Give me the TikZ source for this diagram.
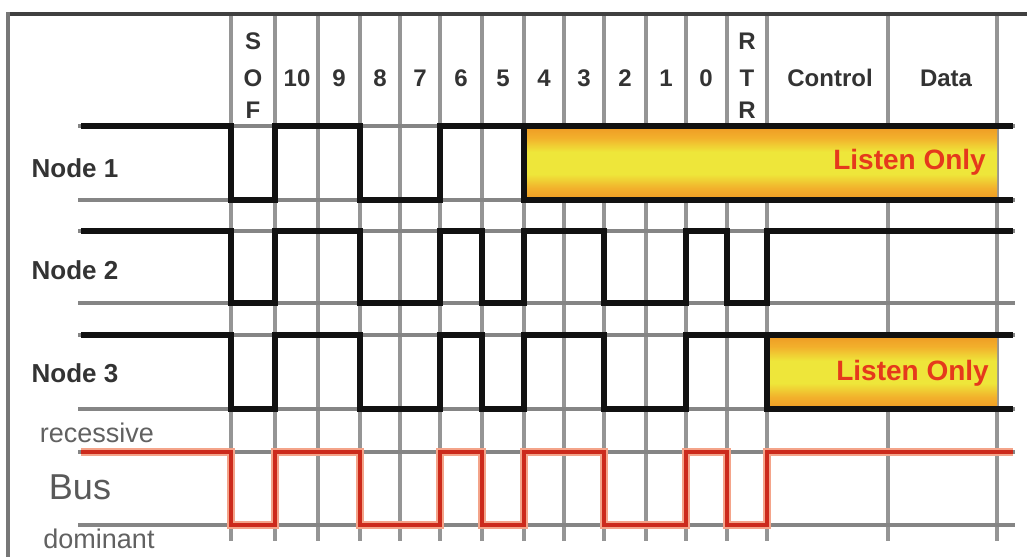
\documentclass[tikz,border=0pt]{standalone}
\usepackage{fontspec}
\setmainfont{Liberation Sans}
\definecolor{framec}{HTML}{404040}
\definecolor{framel}{HTML}{777777}
\definecolor{gridc}{HTML}{959595}
\definecolor{refc}{HTML}{858585}
\definecolor{sigc}{HTML}{111111}
\definecolor{busred}{HTML}{CC2A1C}
\definecolor{busglow}{HTML}{F4A48A}
\definecolor{txtc}{HTML}{333333}
\definecolor{lotext}{HTML}{E5391C}
\definecolor{boxbrown}{HTML}{6A3A12}
\definecolor{boxorange}{HTML}{EC861C}
\definecolor{boxmid}{HTML}{F2B02C}
\definecolor{boxyellow}{HTML}{EEE63A}
\pgfdeclareverticalshading{listenshade}{100bp}{%
  color(0bp)=(boxbrown); color(5bp)=(boxorange); color(16bp)=(boxorange);
  color(32bp)=(boxmid); color(42bp)=(boxyellow); color(58bp)=(boxyellow);
  color(68bp)=(boxmid); color(84bp)=(boxorange); color(95bp)=(boxorange);
  color(100bp)=(boxbrown)}
\begin{document}
\begin{tikzpicture}[x=1pt,y=-1pt,
  gridline/.style={draw=gridc, line width=3.4pt},
  refline/.style={draw=refc, line width=3.8pt},
  sig/.style={draw=sigc, line width=5.4pt, line join=miter},
  busglowline/.style={draw=busglow, line width=7.5pt, line join=miter},
  bussig/.style={draw=busred, line width=4.4pt, line join=miter},
  hdr/.style={font=\bfseries\fontsize{24}{24}\selectfont, text=txtc, inner sep=0pt},
  rowlbl/.style={font=\bfseries\fontsize{26}{26}\selectfont, text=txtc, inner sep=0pt},
  buslbl/.style={font=\fontsize{36}{36}\selectfont, text=black!65, inner sep=0pt},
  lvl/.style={font=\fontsize{27}{27}\selectfont, text=black!62, inner sep=0pt},
  listen/.style={font=\bfseries\fontsize{28}{28}\selectfont, text=lotext, inner sep=0pt, anchor=east},
  lobox/.style={shading=listenshade}
]
\useasboundingbox (0,0) rectangle (1027,557);
\fill[white] (0,0) rectangle (1027,557);

% frame
\draw[framec, line width=4pt] (6,14) -- (1027,14);
\draw[framel, line width=4pt] (8,12) -- (8,557);

% grid
\foreach \x in {231,275,318,360,400,440,482,524,564,604,646,686,727,767,888,997}
  \draw[gridline] (\x,16) -- (\x,541);

% reference levels
\foreach \y in {126,200,231,303,335,409,452,525}
  \draw[refline] (78,\y) -- (1015,\y);

% header
\node[hdr] (hS1) at (253,41) {S};
\node[hdr] (hO) at (253,78) {O};
\node[hdr] (hF) at (253,110) {F};
\node[hdr] (h10) at (297,78) {10};
\node[hdr] (h9) at (339,78) {9};
\node[hdr] (h8) at (380,78) {8};
\node[hdr] (h7) at (420,78) {7};
\node[hdr] (h6) at (461,78) {6};
\node[hdr] (h5) at (503,78) {5};
\node[hdr] (h4) at (544,78) {4};
\node[hdr] (h3) at (584,78) {3};
\node[hdr] (h2) at (625,78) {2};
\node[hdr] (h1) at (666,78) {1};
\node[hdr] (h0) at (706,78) {0};
\node[hdr] (hR1) at (747,41) {R};
\node[hdr] (hT) at (747,78) {T};
\node[hdr] (hR2) at (747,110) {R};
\node[hdr] (hctl) at (830,78) {Control};
\node[hdr] (hdat) at (946,78) {Data};

% row labels
\node[rowlbl] (n1) at (75,168) {Node 1};
\node[rowlbl] (n2) at (75,270) {Node 2};
\node[rowlbl] (n3) at (75,373) {Node 3};
\node[lvl] (rec) at (97,433) {recessive};
\node[buslbl] (bus) at (80,487) {Bus};
\node[lvl] (dom) at (99,539) {dominant};

% listen-only boxes
\shade[lobox] (526,128) rectangle (997,198);
\shade[lobox] (769,337) rectangle (997,407);
\node[listen] (lo1) at (986,162) {Listen Only};
\node[listen] (lo3) at (989,373) {Listen Only};

% Node 1
\draw[sig] (81,126) -- (231,126) -- (231,200) -- (275,200) -- (275,126)
  -- (360,126) -- (360,200) -- (440,200) -- (440,126) -- (1013,126);
\draw[sig] (524,126) -- (524,200) -- (1013,200);

% Node 2
\draw[sig] (81,231) -- (231,231) -- (231,303) -- (275,303) -- (275,231)
  -- (360,231) -- (360,303) -- (440,303) -- (440,231) -- (482,231)
  -- (482,303) -- (524,303) -- (524,231) -- (604,231) -- (604,303)
  -- (686,303) -- (686,231) -- (727,231) -- (727,303) -- (767,303)
  -- (767,231) -- (1013,231);

% Node 3
\draw[sig] (81,335) -- (231,335) -- (231,409) -- (275,409) -- (275,335)
  -- (360,335) -- (360,409) -- (440,409) -- (440,335) -- (482,335)
  -- (482,409) -- (524,409) -- (524,335) -- (604,335) -- (604,409)
  -- (686,409) -- (686,335) -- (1013,335);
\draw[sig] (767,335) -- (767,409) -- (1013,409);

% Bus
\foreach \st in {busglowline,bussig}
\draw[\st] (81,452) -- (231,452) -- (231,525) -- (275,525) -- (275,452)
  -- (360,452) -- (360,525) -- (440,525) -- (440,452) -- (482,452)
  -- (482,525) -- (524,525) -- (524,452) -- (604,452) -- (604,525)
  -- (686,525) -- (686,452) -- (727,452) -- (727,525) -- (767,525)
  -- (767,452) -- (1013,452);
\end{tikzpicture}
\end{document}
